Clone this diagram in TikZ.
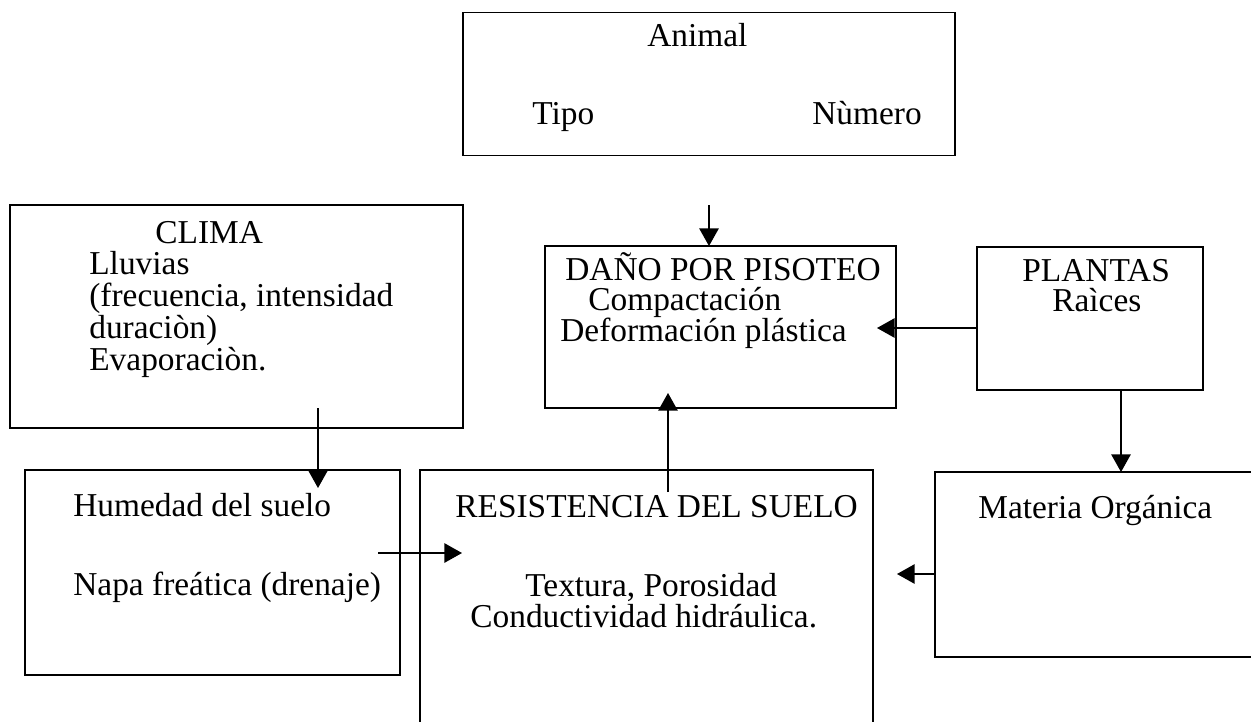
\documentclass[tikz,border=0pt]{standalone}
\usepackage{fontspec}
\setmainfont{Liberation Serif}
\usetikzlibrary{arrows.meta}
\tikzset{
  caja/.style={draw, line width=1pt, inner sep=0pt, outer sep=0pt},
  txt/.style={anchor=base west, inner sep=0pt, font=\fontsize{19}{18}\selectfont},
  flecha/.style={line width=0.8pt, -{Triangle[length=10pt,width=11pt]}},
}

\begin{document}
\begin{tikzpicture}[x=0.02cm, y=-0.02cm]
  \useasboundingbox (0,0) rectangle (1251,721);
  \clip (0,0) rectangle (1251,721);
  % cajas
  \node[caja, minimum width=9.84cm, minimum height=2.86cm] (animal) at (709,84) {};
  \node[caja, minimum width=9.06cm, minimum height=4.46cm] (clima) at (236.5,316.5) {};
  \node[caja, minimum width=7.02cm, minimum height=3.24cm] (dano) at (720.5,327) {};
  \node[caja, minimum width=4.52cm, minimum height=2.86cm] (plantas) at (1090,318.5) {};
  \node[caja, minimum width=7.5cm, minimum height=4.1cm] (humedad) at (212.5,572.5) {};
  \node[caja, minimum width=9.06cm, minimum height=6.2cm] (resist) at (646.5,625) {};
  \node[caja, minimum width=7.3cm, minimum height=3.7cm] (materia) at (1117.5,564.5) {};
  % textos
  \node[txt] (tanimal) at (647,46) {Animal};
  \node[txt] (ttipo) at (532,124) {Tipo};
  \node[txt] (tnumero) at (812,124) {Nùmero};
  \node[txt] (tclima) at (155,243) {CLIMA};
  \node[txt] (tlluvias) at (89,274) {Lluvias};
  \node[txt] (tfrec) at (89,306) {(frecuencia, intensidad};
  \node[txt] (tdur) at (89,338) {duraciòn)};
  \node[txt] (tevap) at (89,370) {Evaporaciòn.};
  \node[txt] (tdano) at (565,280) {DAÑO POR PISOTEO};
  \node[txt] (tcomp) at (588,310) {Compactación};
  \node[txt] (tdef) at (560,341) {Deformación plástica};
  \node[txt] (tplantas) at (1022,281) {PLANTAS};
  \node[txt] (traices) at (1052,311) {Raìces};
  \node[txt] (thum) at (73,516) {Humedad del suelo};
  \node[txt] (tnapa) at (73,595) {Napa freática (drenaje)};
  \node[txt] (tres) at (455,517) {RESISTENCIA DEL SUELO};
  \node[txt] (ttext) at (525,596) {Textura, Porosidad};
  \node[txt] (tcond) at (470,627) {Conductividad hidráulica.};
  \node[txt] (tmat) at (978,518) {Materia Orgánica};
  % flechas
  \coordinate (animalout) at (709,205);
  \coordinate (danotip) at (877,328);
  \coordinate (resout) at (668,492);
  \coordinate (danotipb) at (668,393);
  \coordinate (climaout) at (318,408);
  \coordinate (humtip) at (318,488);
  \coordinate (humout) at (378,553);
  \coordinate (restip) at (462,553);
  \coordinate (mattip) at (1121,472);
  \coordinate (restipb) at (897,574);
  \draw[flecha] (animalout) -- (animalout |- dano.north);
  \draw[flecha] (plantas.west |- danotip) -- (danotip);
  \draw[flecha] (resout) -- (danotipb);
  \draw[flecha] (climaout) -- (humtip);
  \draw[flecha] (humout) -- (restip);
  \draw[flecha] (plantas.south -| mattip) -- (mattip);
  \draw[flecha] (materia.west |- restipb) -- (restipb);
\end{tikzpicture}
\end{document}
